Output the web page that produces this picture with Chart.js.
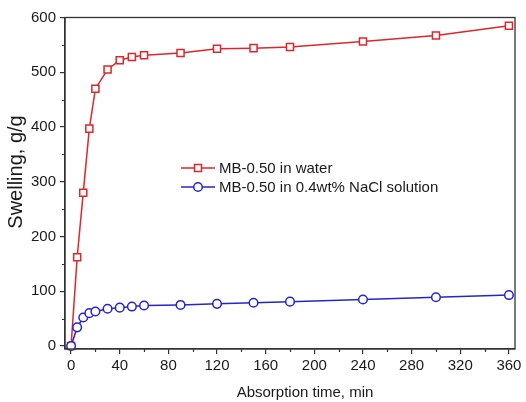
<!DOCTYPE html>
<html>
<head>
<meta charset="utf-8">
<script src="https://cdn.jsdelivr.net/npm/chart.js@4"></script>
<style>
  html, body { margin: 0; padding: 0; background: #fff; }
  #c { display: block; }
</style>
</head>
<body>
<canvas id="c" width="526" height="402"></canvas>
<script>
// Absorption times (min)
const times = [0, 5, 10, 15, 20, 30, 40, 50, 60, 90, 120, 150, 180, 240, 300, 360];
// Swelling (g/g) in distilled water
const swellWater = [0, 162, 280, 397, 470, 505, 522, 528, 531, 535, 543, 544, 546, 556, 567, 585];
// Swelling (g/g) in 0.4 wt% NaCl solution
const swellSaline = [0, 34, 52, 60, 63, 68, 70, 72, 74, 75, 77, 79, 81, 85, 89, 93];

const seriesNames = ['MB-0.50 in water', 'MB-0.50 in 0.4wt% NaCl solution'];
const xTicks = [0, 40, 80, 120, 160, 200, 240, 280, 320, 360];
const xMinor = [20, 60, 100, 140, 180, 220, 260, 300, 340];
const yTicks = [0, 100, 200, 300, 400, 500, 600];
const yMinor = [50, 150, 250, 350, 450, 550];
const xTitle = 'Absorption time, min';
const yTitle = 'Swelling, g/g';

const RED = '#e0252c';
const BLUE = '#2626c8';
const AXIS = '#333333';
const FONT = '"Liberation Sans", Arial, sans-serif';

const toPoints = (ys) => times.map((t, i) => ({ x: t, y: ys[i] }));

// Frame, minor ticks, axis titles and the in-plot legend
const decorations = {
  id: 'decorations',
  afterDraw(chart) {
    const { ctx, chartArea: a, scales: { x, y } } = chart;
    ctx.save();
    ctx.strokeStyle = AXIS;
    ctx.lineWidth = 1.3;
    ctx.strokeRect(a.left, a.top, a.right - a.left, a.bottom - a.top);

    ctx.lineWidth = 1.2;
    ctx.beginPath();
    xMinor.forEach(v => {
      const px = Math.round(x.getPixelForValue(v)) + 0.5;
      ctx.moveTo(px, a.bottom); ctx.lineTo(px, a.bottom + 3);
    });
    yMinor.forEach(v => {
      const py = Math.round(y.getPixelForValue(v)) + 0.5;
      ctx.moveTo(a.left, py); ctx.lineTo(a.left - 3, py);
    });
    ctx.stroke();

    ctx.fillStyle = '#1a1a1a';
    ctx.font = '15px ' + FONT;
    ctx.textAlign = 'center';
    ctx.textBaseline = 'alphabetic';
    ctx.fillText(xTitle, 305, 397);

    ctx.save();
    ctx.translate(22, 172);
    ctx.rotate(-Math.PI / 2);
    ctx.font = '20px ' + FONT;
    ctx.fillText(yTitle, 0, 0);
    ctx.restore();

    // legend
    const rows = [
      { color: RED, style: 'rect', y: 168 },
      { color: BLUE, style: 'circle', y: 187 }
    ];
    ctx.font = '15px ' + FONT;
    ctx.textAlign = 'left';
    ctx.textBaseline = 'middle';
    rows.forEach((r, i) => {
      ctx.strokeStyle = r.color;
      ctx.lineWidth = 1.5;
      ctx.beginPath();
      ctx.moveTo(181, r.y); ctx.lineTo(215, r.y);
      ctx.stroke();
      ctx.fillStyle = '#fff';
      ctx.beginPath();
      if (r.style === 'rect') ctx.rect(194.5, r.y - 3.5, 7, 7);
      else ctx.arc(198, r.y, 4.3, 0, Math.PI * 2);
      ctx.fill();
      ctx.stroke();
      ctx.fillStyle = '#1a1a1a';
      ctx.fillText(seriesNames[i], 219, r.y + 1);
    });
    ctx.restore();
  }
};

new Chart(document.getElementById('c'), {
  type: 'line',
  data: {
    datasets: [
      {
        label: seriesNames[0],
        data: toPoints(swellWater),
        borderColor: RED,
        backgroundColor: '#ffffff',
        borderWidth: 1.5,
        pointStyle: 'rect',
        pointRadius: 5,
        pointBorderWidth: 1.5,
        pointBackgroundColor: '#ffffff',
        pointBorderColor: RED,
        tension: 0,
        order: 2
      },
      {
        label: seriesNames[1],
        data: toPoints(swellSaline),
        borderColor: BLUE,
        backgroundColor: '#ffffff',
        borderWidth: 1.5,
        pointStyle: 'circle',
        pointRadius: 4.3,
        pointBorderWidth: 1.5,
        pointBackgroundColor: '#ffffff',
        pointBorderColor: BLUE,
        tension: 0,
        order: 1
      }
    ]
  },
  options: {
    responsive: false,
    devicePixelRatio: 1,
    animation: false,
    clip: false,
    layout: { padding: { top: 17.5, right: 11, left: 0, bottom: 0 } },
    plugins: { legend: { display: false }, tooltip: { enabled: false } },
    scales: {
      x: {
        type: 'linear',
        min: -5,
        max: 365,
        afterBuildTicks: (s) => { s.ticks = xTicks.map(v => ({ value: v })); },
        afterFit: (s) => { s.height = 53; },
        grid: { display: true, drawOnChartArea: false, drawTicks: true, tickLength: 5, color: AXIS, lineWidth: 1.2 },
        border: { display: true, color: AXIS, width: 1.3 },
        ticks: { font: { family: FONT, size: 15 }, color: '#1a1a1a', padding: 3, maxRotation: 0 }
      },
      y: {
        type: 'linear',
        min: -5.5,
        max: 600,
        afterBuildTicks: (s) => { s.ticks = yTicks.map(v => ({ value: v })); },
        afterFit: (s) => { s.width = 65; },
        grid: { display: true, drawOnChartArea: false, drawTicks: true, tickLength: 5, color: AXIS, lineWidth: 1.2 },
        border: { display: true, color: AXIS, width: 1.3 },
        ticks: { font: { family: FONT, size: 15 }, color: '#1a1a1a', padding: 4 }
      }
    }
  },
  plugins: [decorations]
});
</script>
</body>
</html>
